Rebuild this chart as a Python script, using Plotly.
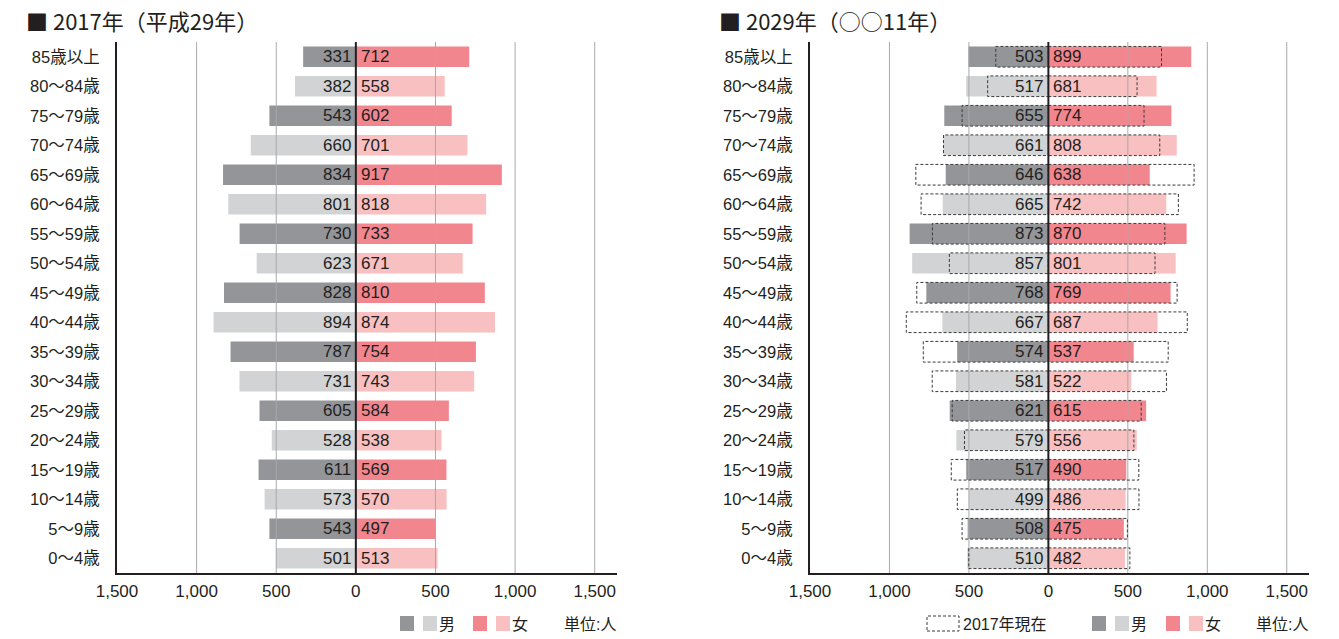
import plotly.graph_objects as go

ages = ["85歳以上", "80〜84歳", "75〜79歳", "70〜74歳", "65〜69歳", "60〜64歳",
        "55〜59歳", "50〜54歳", "45〜49歳", "40〜44歳", "35〜39歳", "30〜34歳",
        "25〜29歳", "20〜24歳", "15〜19歳", "10〜14歳", "5〜9歳", "0〜4歳"]

male_2017 = [331, 382, 543, 660, 834, 801, 730, 623, 828, 894, 787, 731, 605, 528, 611, 573, 543, 501]
female_2017 = [712, 558, 602, 701, 917, 818, 733, 671, 810, 874, 754, 743, 584, 538, 569, 570, 497, 513]
male_2029 = [503, 517, 655, 661, 646, 665, 873, 857, 768, 667, 574, 581, 621, 579, 517, 499, 508, 510]
female_2029 = [899, 681, 774, 808, 638, 742, 870, 801, 769, 687, 537, 522, 615, 556, 490, 486, 475, 482]

tick_vals = [-1500, -1000, -500, 0, 500, 1000, 1500]
tick_text = ["1,500", "1,000", "500", "0", "500", "1,000", "1,500"]
grid_vals = [-1000, -500, 500, 1000, 1500]

titles = ["■ 2017年（平成29年）", "■ 2029年（○○11年）"]

M_DARK, M_LIGHT = "#939598", "#d1d3d4"
F_DARK, F_LIGHT = "#f2868e", "#f8c0c0"
TXT = "#231f20"
GRID = "#a7a9ac"
FONT = "Liberation Sans, Noto Sans CJK JP"
CJK = "Noto Sans CJK JP"

# page body has an 8px margin; size the figure so it fits the 1339x639 window
OFF = 8
W, H = 1339 - OFF, 639 - OFF
def px(x): return (x - OFF) / W
def py(y): return 1 - (y - OFF) / H

ypos = list(range(len(ages)))
male_colors = [M_DARK if i % 2 == 0 else M_LIGHT for i in ypos]
female_colors = [F_DARK if i % 2 == 0 else F_LIGHT for i in ypos]

fig = go.Figure()
shapes = []
annotations = []

panels = [
    (male_2017, female_2017, None, "x", "y", [px(117), px(617)]),
    (male_2029, female_2029, (male_2017, female_2017), "x2", "y2", [px(810), px(1309)]),
]
ydom = [py(573), py(42)]
BW = 0.7

for k, (m, f, outline, xr, yr, xdom) in enumerate(panels):
    fig.add_trace(go.Bar(x=[-v for v in m], y=ypos, orientation="h", width=BW,
                         marker=dict(color=male_colors, line=dict(width=0)),
                         xaxis=xr, yaxis=yr, showlegend=False, hoverinfo="skip"))
    fig.add_trace(go.Bar(x=f, y=ypos, orientation="h", width=BW,
                         marker=dict(color=female_colors, line=dict(width=0)),
                         xaxis=xr, yaxis=yr, showlegend=False, hoverinfo="skip"))
    for g in grid_vals:
        shapes.append(dict(type="line", xref=xr, yref=f"{yr} domain", x0=g, x1=g, y0=0, y1=1,
                           line=dict(color=GRID, width=1), layer="above"))
    if outline is not None:
        om, of = outline
        for i in ypos:
            shapes.append(dict(type="rect", xref=xr, yref=yr, x0=0, x1=-om[i],
                               y0=i - BW / 2, y1=i + BW / 2,
                               line=dict(color="#3a3a3a", width=1, dash="3px,2px"),
                               fillcolor="rgba(0,0,0,0)", layer="above"))
            shapes.append(dict(type="rect", xref=xr, yref=yr, x0=0, x1=of[i],
                               y0=i - BW / 2, y1=i + BW / 2,
                               line=dict(color="#3a3a3a", width=1, dash="3px,2px"),
                               fillcolor="rgba(0,0,0,0)", layer="above"))
    shapes.append(dict(type="line", xref=xr, yref=f"{yr} domain", x0=0, x1=0, y0=0, y1=1,
                       line=dict(color=TXT, width=2), layer="above"))
    for i in ypos:
        annotations.append(dict(x=0, y=i, xref=xr, yref=yr, text=str(m[i]), showarrow=False,
                                xanchor="right", yanchor="middle", xshift=-3,
                                font=dict(size=17, color=TXT, family=FONT)))
        annotations.append(dict(x=0, y=i, xref=xr, yref=yr, text=str(f[i]), showarrow=False,
                                xanchor="left", yanchor="middle", xshift=3,
                                font=dict(size=17, color=TXT, family=FONT)))
    axkey = "xaxis" if xr == "x" else "xaxis2"
    aykey = "yaxis" if yr == "y" else "yaxis2"
    fig.layout[axkey] = dict(domain=xdom, range=[-1500, 1640], tickvals=tick_vals, ticktext=tick_text,
                             showgrid=False, zeroline=False, showline=True, linecolor=TXT, linewidth=2,
                             ticks="", ticklen=0, ticklabelstandoff=2, anchor=yr, fixedrange=True,
                             automargin=False, tickfont=dict(size=17, color=TXT, family=FONT))
    fig.layout[aykey] = dict(domain=ydom, range=[len(ages) - 0.5, -0.5], tickvals=ypos, ticktext=ages,
                             showgrid=False, zeroline=False, showline=True, linecolor=TXT, linewidth=2,
                             ticks="", ticklabelstandoff=12, anchor=xr, fixedrange=True, automargin=False,
                             tickfont=dict(size=16.5, color=TXT, family=FONT))
    annotations.append(dict(x=px(24 if k == 0 else 717), y=py(20), xref="paper", yref="paper",
                            text=titles[k], showarrow=False, xanchor="left", yanchor="middle",
                            font=dict(size=22, color=TXT, family=CJK)))

def sq(x0, color):
    shapes.append(dict(type="rect", xref="paper", yref="paper", x0=px(x0), x1=px(x0 + 14),
                       y0=py(631), y1=py(616), fillcolor=color, line=dict(width=0)))

def txt(x, s):
    annotations.append(dict(x=px(x), y=py(624), xref="paper", yref="paper", text=s, showarrow=False,
                            xanchor="left", yanchor="middle", font=dict(size=16, color=TXT, family=FONT)))

for (a, b, c, d, e, f_, g) in [(400, 423, 437, 473, 496, 510, 562), (1092, 1115, 1129, 1166, 1189, 1203, 1254)]:
    sq(a, M_DARK); sq(b, M_LIGHT); txt(c, "男")
    sq(d, F_DARK); sq(e, F_LIGHT); txt(f_, "女")
    txt(g, "単位:人")

shapes.append(dict(type="rect", xref="paper", yref="paper", x0=px(927), x1=px(959), y0=py(631), y1=py(616),
                   fillcolor="rgba(0,0,0,0)", line=dict(color="#3a3a3a", width=1, dash="3px,2px")))
txt(961, "2017年現在")

fig.update_layout(width=W, height=H, autosize=False, margin=dict(l=0, r=0, t=0, b=0, pad=0), barmode="overlay",
                  plot_bgcolor="white", paper_bgcolor="white", shapes=shapes, annotations=annotations,
                  showlegend=False, font=dict(family=FONT, color=TXT))
fig.write_html("out.html")
